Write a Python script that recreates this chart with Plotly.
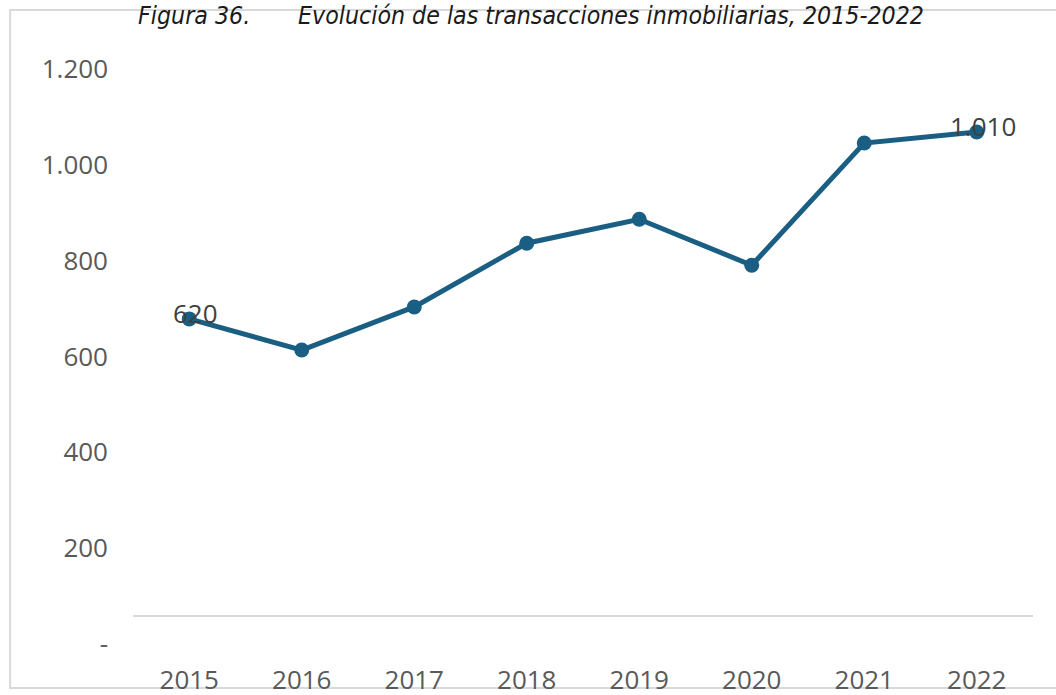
import plotly.graph_objects as go

# Transacciones inmobiliarias por año
years = ["2015", "2016", "2017", "2018", "2019", "2020", "2021", "2022"]
transactions = [620, 555, 645, 778, 828, 732, 987, 1010]

# Etiquetas de datos: sólo primer y último año
label_years = ["2015", "2022"]
label_texts = ["620", "1.010"]

# Eje vertical
y_tick_values = [0, 200, 400, 600, 800, 1000, 1200]
y_tick_labels = ["-", "200", "400", "600", "800", "1.000", "1.200"]

fig_number = "Figura 36."
title_text = "Evolución de las transacciones inmobiliarias, 2015-2022"

line_color = "#1A5F83"
axis_font = dict(family="Open Sans, Noto Sans, sans-serif", size=26, color="#595959")
title_font = dict(family="DejaVu Sans Condensed", size=24.7, color="#1A1A1A", style="italic")

fig = go.Figure()
fig.add_trace(go.Scatter(
    x=years,
    y=transactions,
    mode="lines+markers",
    line=dict(color=line_color, width=5),
    marker=dict(color=line_color, size=15),
    hoverinfo="x+y",
    showlegend=False,
))

for yr, txt in zip(label_years, label_texts):
    idx = years.index(yr)
    fig.add_annotation(
        x=idx, y=transactions[idx], xref="x", yref="y", text=txt, showarrow=False,
        xshift=6, yshift=6,
        font=dict(family="Open Sans, Noto Sans, sans-serif", size=26, color="#404040"),
    )

# Marco del gráfico
fig.add_shape(
    type="rect", xref="paper", yref="paper",
    x0=-0.1365, x1=1.05, y0=-0.1253, y1=1.0539,
    line=dict(color="#D9D9D9", width=2), fillcolor="rgba(0,0,0,0)", layer="below",
)

# Título: número de figura y texto, separados como en un tabulador
fig.add_annotation(
    xref="paper", yref="paper", x=0.0033, y=1.0452, xanchor="left", yanchor="middle",
    text=fig_number, showarrow=False, font=title_font,
)
fig.add_annotation(
    xref="paper", yref="paper", x=0.1811, y=1.0452, xanchor="left", yanchor="middle",
    text=title_text, showarrow=False, font=title_font,
)

fig.update_layout(
    width=1056, height=695,
    margin=dict(l=133, r=23, t=41, b=79),
    paper_bgcolor="white", plot_bgcolor="white",
    xaxis=dict(
        type="category", showgrid=False, zeroline=False, automargin=False,
        range=[-0.5, len(years) - 0.5],
        showline=False, ticks="", tickfont=axis_font, ticklabelstandoff=46,
    ),
    yaxis=dict(
        range=[0, 1200], tickvals=y_tick_values, ticktext=y_tick_labels,
        showgrid=False, zeroline=True, zerolinecolor="#D9D9D9", zerolinewidth=2,
        showline=False, ticks="", tickfont=axis_font, automargin=False,
        ticklabelstandoff=24, ticklabelshift=28, ticklabeloverflow="allow",
    ),
)

fig.write_html("out.html")
